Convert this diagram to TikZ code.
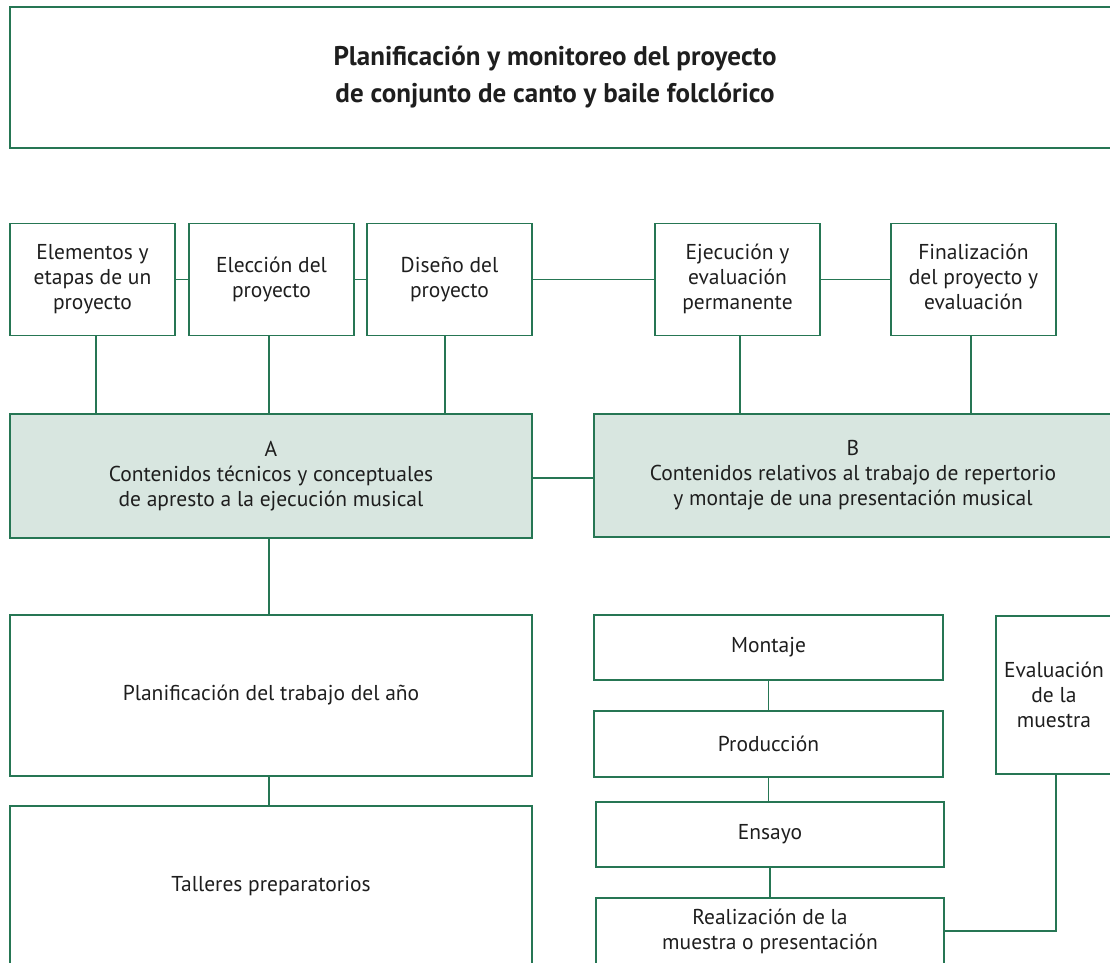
\documentclass[tikz,border=0pt]{standalone}
\usepackage{fontspec}
\setmainfont{PT Sans}
\definecolor{ln}{RGB}{38,118,84}
\definecolor{fl}{RGB}{216,230,224}
\definecolor{tx}{RGB}{30,30,30}
\newcommand{\stk}[2]{\raisebox{#1}{\begin{tabular}{@{}c@{}}#2\end{tabular}}}
\begin{document}
\begin{tikzpicture}[x=1pt,y=-1pt,
  box/.style={draw=ln,line width=1.4pt,rectangle,inner sep=0pt,align=center,text=tx,
    font=\fontsize{21.5}{25}\selectfont},
  shaded/.style={box,fill=fl},
  conn/.style={draw=ln,line width=1.4pt}]
\useasboundingbox (0,0) rectangle (1110,962);
\clip (0,0) rectangle (1110,962);
% title
\node[box,minimum width=1110pt,minimum height=141pt] (title) at (565,77.5) {};
\node[text=tx,align=center,font=\fontsize{27}{37}\selectfont\bfseries] (tt) at (555,77.5)
  {Planificación y monitoreo del proyecto\\de conjunto de canto y baile folclórico};
% top row
\node[box,minimum width=165pt,minimum height=112pt] (e1) at (92.5,279.5) {\stk{5pt}{Elementos y\\etapas de un\\proyecto}};
\node[box,minimum width=165pt,minimum height=112pt] (e2) at (271.5,279.5) {\stk{4pt}{Elección del\\proyecto}};
\node[box,minimum width=165pt,minimum height=112pt] (e3) at (449.5,279.5) {\stk{4pt}{Diseño del\\proyecto}};
\node[box,minimum width=165pt,minimum height=112pt] (e4) at (737.5,279.5) {\stk{5pt}{Ejecución y\\evaluación\\permanente}};
\node[box,minimum width=165pt,minimum height=112pt] (e5) at (973.5,279.5) {\stk{5pt}{Finalización\\del proyecto y\\evaluación}};
% A and B
\node[shaded,minimum width=522pt,minimum height=124pt] (A) at (271,476)
  {A\\Contenidos técnicos y conceptuales\\de apresto a la ejecución musical};
\node[shaded,minimum width=518pt,minimum height=123pt] (B) at (853,475.5)
  {B\\Contenidos relativos al trabajo de repertorio\\y montaje de una presentación musical};
% left column
\node[box,minimum width=522pt,minimum height=161pt] (plan) at (271,695.5) {Planificación del trabajo del año};
\node[box,minimum width=522pt,minimum height=160pt] (tall) at (271,886) {\raisebox{4pt}{Talleres preparatorios}};
% right column
\node[box,minimum width=349pt,minimum height=65pt] (mont) at (768.5,647.5) {Montaje};
\node[box,minimum width=349pt,minimum height=66pt] (prod) at (768.5,744) {Producción};
\node[box,minimum width=348pt,minimum height=65pt] (ens) at (770,834.5) {Ensayo};
\node[box,minimum width=348pt,minimum height=66pt] (real) at (770,931) {Realización de la\\muestra o presentación};
\node[box,minimum width=116pt,minimum height=158pt] (eval) at (1054,695) {Evaluación\\de la\\muestra};
% connectors
\draw[conn] (e1.east) -- (e2.west);
\draw[conn] (e2.east) -- (e3.west);
\draw[conn] (e3.east) -- (e4.west);
\draw[conn] (e4.east) -- (e5.west);
\draw[conn] ([xshift=3.5pt]e1.south) -- ([xshift=3.5pt]e1.south |- A.north);
\draw[conn] ([xshift=-2.5pt]e2.south) -- ([xshift=-2.5pt]e2.south |- A.north);
\draw[conn] ([xshift=-4.5pt]e3.south) -- ([xshift=-4.5pt]e3.south |- A.north);
\draw[conn] ([xshift=2.5pt]e4.south) -- ([xshift=2.5pt]e4.south |- B.north);
\draw[conn] ([xshift=-2.5pt]e5.south) -- ([xshift=-2.5pt]e5.south |- B.north);
\draw[conn] ([yshift=-2pt]A.east) -- ([yshift=-2pt]A.east -| B.west);
\draw[conn] ([xshift=-2pt]A.south) -- ([xshift=-2pt]plan.north);
\draw[conn] ([xshift=-2pt]plan.south) -- ([xshift=-2pt]tall.north);
\draw[conn] ([xshift=-85pt]B.south) -- (B.south -| mont.north);
\draw[conn] (mont.south) -- (prod.north);
\draw[conn] (prod.south) -- (prod.south |- ens.north);
\draw[conn] (ens.south) -- (real.north);
\draw[conn] ([xshift=2pt]eval.south) |- (real.east);
\end{tikzpicture}
\end{document}
